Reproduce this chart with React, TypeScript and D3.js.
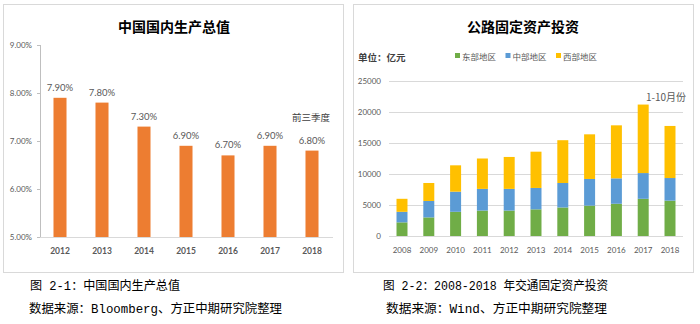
import React from "react";
import * as d3 from "d3";

const gdpYears = ["2012", "2013", "2014", "2015", "2016", "2017", "2018"];
const gdpValues = [7.9, 7.8, 7.3, 6.9, 6.7, 6.9, 6.8];
const gdpTicks = [5, 6, 7, 8, 9];

const invYears = ["2008", "2009", "2010", "2011", "2012", "2013", "2014", "2015", "2016", "2017", "2018"];
const eastValues = [2200, 3000, 3900, 4100, 4100, 4300, 4600, 4900, 5200, 6000, 5700];
const midValues = [1700, 2650, 3250, 3500, 3500, 3450, 3950, 4300, 4100, 4150, 3650];
const westValues = [2100, 2900, 4250, 4900, 5150, 5850, 6900, 7200, 8550, 11050, 8400];
const invTicks = [0, 5000, 10000, 15000, 20000, 25000];
const seriesNames = ["东部地区", "中部地区", "西部地区"];
const seriesColors = ["#70AD47", "#5B9BD5", "#FFC000"];

const CJK = "'Noto Sans CJK SC', 'Microsoft YaHei', sans-serif";
const NUM = "Lato, 'Noto Sans', sans-serif";
const CAP = "'Liberation Mono', 'Noto Sans CJK SC', monospace";

export default function App() {
  // Left chart scales
  const xL = d3.scaleBand<string>().domain(gdpYears).range([39, 333]).paddingInner(0.69).paddingOuter(0.345);
  const yL = d3.scaleLinear().domain([5, 9]).range([237, 45]);

  // Right chart scales
  const xR = d3.scaleBand<string>().domain(invYears).range([388.6, 683.4]).paddingInner(0.59).paddingOuter(0.295);
  const yR = d3.scaleLinear().domain([0, 25000]).range([236, 81]);

  const stackData = invYears.map((y, i) => ({ year: y, east: eastValues[i], mid: midValues[i], west: westValues[i] }));
  const stack = d3.stack<any>().keys(["east", "mid", "west"])(stackData);

  return (
    <svg width={700} height={324} style={{ position: "absolute", left: 0, top: 0, background: "#fff" }}>
      <rect x={0} y={0} width={700} height={324} fill="#fff" />
      {/* Boxes */}
      <rect x={3.5} y={4.5} width={340} height={268} fill="#fff" stroke="#d9d9d9" />
      <rect x={353.5} y={4.5} width={340} height={268} fill="#fff" stroke="#d9d9d9" />

      {/* LEFT CHART */}
      <text x={174} y={32} textAnchor="middle" fontFamily={CJK} fontSize={14} fontWeight="bold" fill="#000">中国国内生产总值</text>
      <line x1={40.5} x2={40.5} y1={yL(9)} y2={yL(5)} stroke="#bfbfbf" />
      {gdpTicks.map((t) => (
        <g key={t}>
          <line x1={37} x2={40.5} y1={yL(t) + 0.5} y2={yL(t) + 0.5} stroke="#bfbfbf" />
          <text x={32} y={yL(t) + 3} textAnchor="end" fontFamily={NUM} fontSize={8} fill="#595959">{t.toFixed(2)}%</text>
        </g>
      ))}
      {gdpYears.map((y, i) => (
        <g key={y}>
          <rect x={xL(y)} y={yL(gdpValues[i])} width={xL.bandwidth()} height={yL(5) - yL(gdpValues[i])} fill="#ED7D31" />
          <text x={(xL(y) as number) + xL.bandwidth() / 2} y={yL(gdpValues[i]) - 7} textAnchor="middle" fontFamily={NUM} fontSize={9.5} fill="#595959">{gdpValues[i].toFixed(2)}%</text>
          <text x={(xL(y) as number) + xL.bandwidth() / 2} y={254} textAnchor="middle" fontFamily={NUM} fontSize={8.5} fontWeight="bold" fill="#595959">{y}</text>
        </g>
      ))}
      <line x1={40} x2={333} y1={yL(5) + 0.5} y2={yL(5) + 0.5} stroke="#d9d9d9" />
      <text x={311} y={121} textAnchor="middle" fontFamily={CJK} fontSize={9.5} fill="#404040">前三季度</text>

      {/* RIGHT CHART */}
      <text x={523} y={32} textAnchor="middle" fontFamily={CJK} fontSize={14} fontWeight="bold" fill="#000">公路固定资产投资</text>
      <text x={358} y={61} fontFamily={CJK} fontSize={9.5} fontWeight="bold" fill="#404040">单位：亿元</text>
      {seriesNames.map((n, i) => (
        <g key={n}>
          <rect x={455 + i * 50.5} y={53} width={5} height={5} fill={seriesColors[i]} />
          <text x={462 + i * 50.5} y={59.5} fontFamily={CJK} fontSize={8.5} fill="#595959">{n}</text>
        </g>
      ))}
      {invTicks.map((t) => (
        <g key={t}>
          <line x1={389} x2={683} y1={yR(t) + 0.5} y2={yR(t) + 0.5} stroke="#d9d9d9" />
          <text x={381} y={yR(t) + 3} textAnchor="end" fontFamily={NUM} fontSize={8} fill="#595959">{t}</text>
        </g>
      ))}
      {stack.map((layer, li) => (
        <g key={li} fill={seriesColors[li]}>
          {layer.map((d: any, i: number) => (
            <rect key={i} x={xR(invYears[i])} y={yR(d[1])} width={xR.bandwidth()} height={yR(d[0]) - yR(d[1])} />
          ))}
        </g>
      ))}
      {invYears.map((y) => (
        <text key={y} x={(xR(y) as number) + xR.bandwidth() / 2} y={253} textAnchor="middle" fontFamily={NUM} fontSize={8} fill="#595959">{y}</text>
      ))}
      <text x={686} y={101} textAnchor="end" fontFamily={CJK} fontSize={10} fill="#595959">1-10月份</text>

      {/* Captions */}
      <text x={30} y={290} fontFamily={CAP} fontSize={12.5} fill="#000" textLength={150} lengthAdjust="spacingAndGlyphs">图 2-1：中国国内生产总值</text>
      <text x={29} y={313} fontFamily={CAP} fontSize={12.5} fill="#000" textLength={253} lengthAdjust="spacingAndGlyphs">数据来源：Bloomberg、方正中期研究院整理</text>
      <text x={383} y={290} fontFamily={CAP} fontSize={12.5} fill="#000" textLength={225} lengthAdjust="spacingAndGlyphs">图 2-2：2008-2018 年交通固定资产投资</text>
      <text x={386} y={313} fontFamily={CAP} fontSize={12.5} fill="#000" textLength={221} lengthAdjust="spacingAndGlyphs">数据来源：Wind、方正中期研究院整理</text>
    </svg>
  );
}
